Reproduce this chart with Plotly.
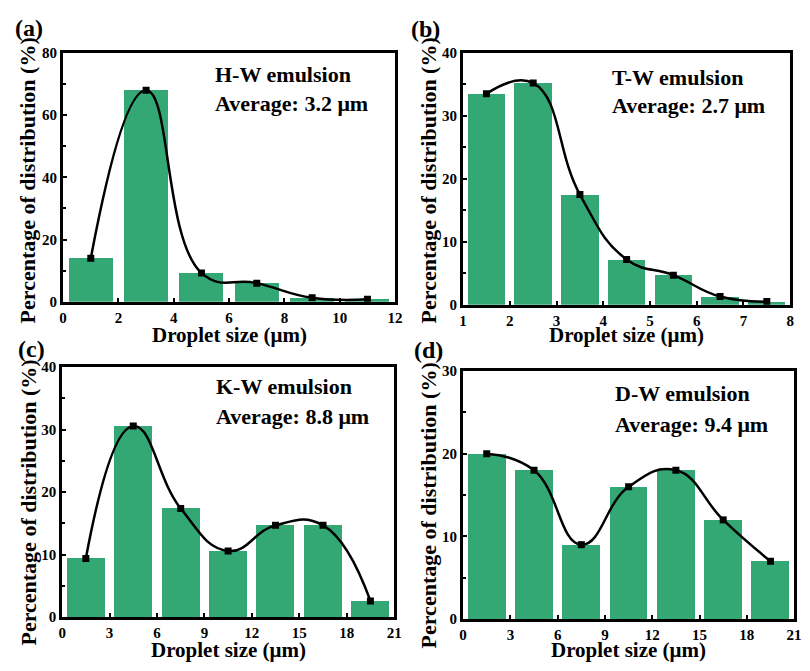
import plotly.graph_objects as go

# ---- data ----
a_x = [1, 3, 5, 7, 9, 11]
a_y = [14, 68, 9.3, 6, 1.3, 0.8]
b_x = [1.5, 2.5, 3.5, 4.5, 5.5, 6.5, 7.5]
b_y = [33.5, 35.2, 17.5, 7.2, 4.7, 1.3, 0.5]
c_x = [1.5, 4.5, 7.5, 10.5, 13.5, 16.5, 19.5]
c_y = [9.4, 30.6, 17.4, 10.6, 14.7, 14.7, 2.6]
d_x = [1.5, 4.5, 7.5, 10.5, 13.5, 16.5, 19.5]
d_y = [20, 18, 9, 16, 18, 12, 7]

panel_labels = ["(a)", "(b)", "(c)", "(d)"]
names = ["H-W emulsion", "T-W emulsion", "K-W emulsion", "D-W emulsion"]
averages = ["Average: 3.2 μm", "Average: 2.7 μm", "Average: 8.8 μm", "Average: 9.4 μm"]
x_title = "Droplet size (μm)"
y_title = "Percentage of distribution (%)"

W, H = 810, 671
FONT = "Liberation Serif"
BAR = "#33a874"

# panel boxes in pixels: left, right, top, bottom
boxes = [(60, 397, 46, 301), (466, 798, 46, 304), (59, 396, 368, 624), (466, 802, 372, 626)]
xr = [(0, 12, 2, 1.6), (1, 8, 1, 0.8), (0, 21, 3, 2.4), (0, 21, 3, 2.4)]
yr = [(0, 80, 20), (0, 40, 10), (0, 40, 10), (0, 30, 10)]
data = [(a_x, a_y), (b_x, b_y), (c_x, c_y), (d_x, d_y)]
label_pos = [(25, 21), (428, 22), (28, 349), (431, 350)]
ann_pos = [(212, 68, 98), (615, 71, 100), (213, 388, 418), (618, 395, 427)]
ytitle_pos = [(24, 177), (431, 177), (25, 507), (431, 510)]
xtitle_y = [335, 335, 658, 658]

fig = go.Figure()
layout = dict(width=W, height=H, margin=dict(l=0, r=0, t=0, b=0),
              paper_bgcolor="white", plot_bgcolor="white", showlegend=False,
              font=dict(family=FONT, color="black"), bargap=0)
annotations = []

for i in range(4):
    l, r, t, b = boxes[i]
    xs, ys = data[i]
    suffix = "" if i == 0 else str(i + 1)
    xa, ya = "x" + suffix, "y" + suffix
    fig.add_trace(go.Bar(x=xs, y=ys, width=xr[i][3], marker=dict(color=BAR, line=dict(width=0)),
                         xaxis=xa, yaxis=ya))
    fig.add_trace(go.Scatter(x=xs, y=ys, mode="lines+markers", line=dict(color="black", width=2.5, shape="spline", smoothing=1.3),
                             marker=dict(symbol="square", size=7, color="black"), xaxis=xa, yaxis=ya))
    axis_common = dict(showline=True, linewidth=3, linecolor="black", mirror=True, showgrid=False, zeroline=False,
                       ticks="inside", ticklen=4, tickwidth=2, tickcolor="black",
                       tickfont=dict(family=FONT, size=15, color="black", weight="bold"))
    layout["xaxis" + suffix] = dict(axis_common, domain=[l / W, r / W], range=[xr[i][0], xr[i][1]],
                                    dtick=xr[i][2], tick0=0, anchor=ya)
    layout["yaxis" + suffix] = dict(axis_common, domain=[1 - b / H, 1 - t / H], range=[yr[i][0], yr[i][1]],
                                    dtick=yr[i][2], anchor=xa,
                                    minor=dict(ticks="inside", ticklen=3, tickwidth=2, tickcolor="black", dtick=yr[i][2] / 2, showgrid=False))
    # panel label
    annotations.append(dict(x=label_pos[i][0] / W, y=1 - label_pos[i][1] / H, xref="paper", yref="paper",
                            text=panel_labels[i], showarrow=False, xanchor="center", yanchor="middle",
                            font=dict(family=FONT, size=24, weight="bold")))
    ax0, ay1, ay2 = ann_pos[i]
    annotations.append(dict(x=ax0 / W, y=1 - ay1 / H, xref="paper", yref="paper", text=names[i], showarrow=False,
                            xanchor="left", yanchor="middle", font=dict(family=FONT, size=22, weight="bold")))
    annotations.append(dict(x=ax0 / W, y=1 - ay2 / H, xref="paper", yref="paper", text=averages[i], showarrow=False,
                            xanchor="left", yanchor="middle", font=dict(family=FONT, size=22, weight="bold")))
    annotations.append(dict(x=(l + r) / 2 / W, y=1 - xtitle_y[i] / H, xref="paper", yref="paper", text=x_title,
                            showarrow=False, xanchor="center", yanchor="middle",
                            font=dict(family=FONT, size=21, weight="bold")))
    annotations.append(dict(x=ytitle_pos[i][0] / W, y=1 - ytitle_pos[i][1] / H, xref="paper", yref="paper", text=y_title,
                            showarrow=False, xanchor="center", yanchor="middle", textangle=-90,
                            font=dict(family=FONT, size=22, weight="bold")))

layout["annotations"] = annotations
fig.update_layout(**layout)
fig.write_html("out.html")
